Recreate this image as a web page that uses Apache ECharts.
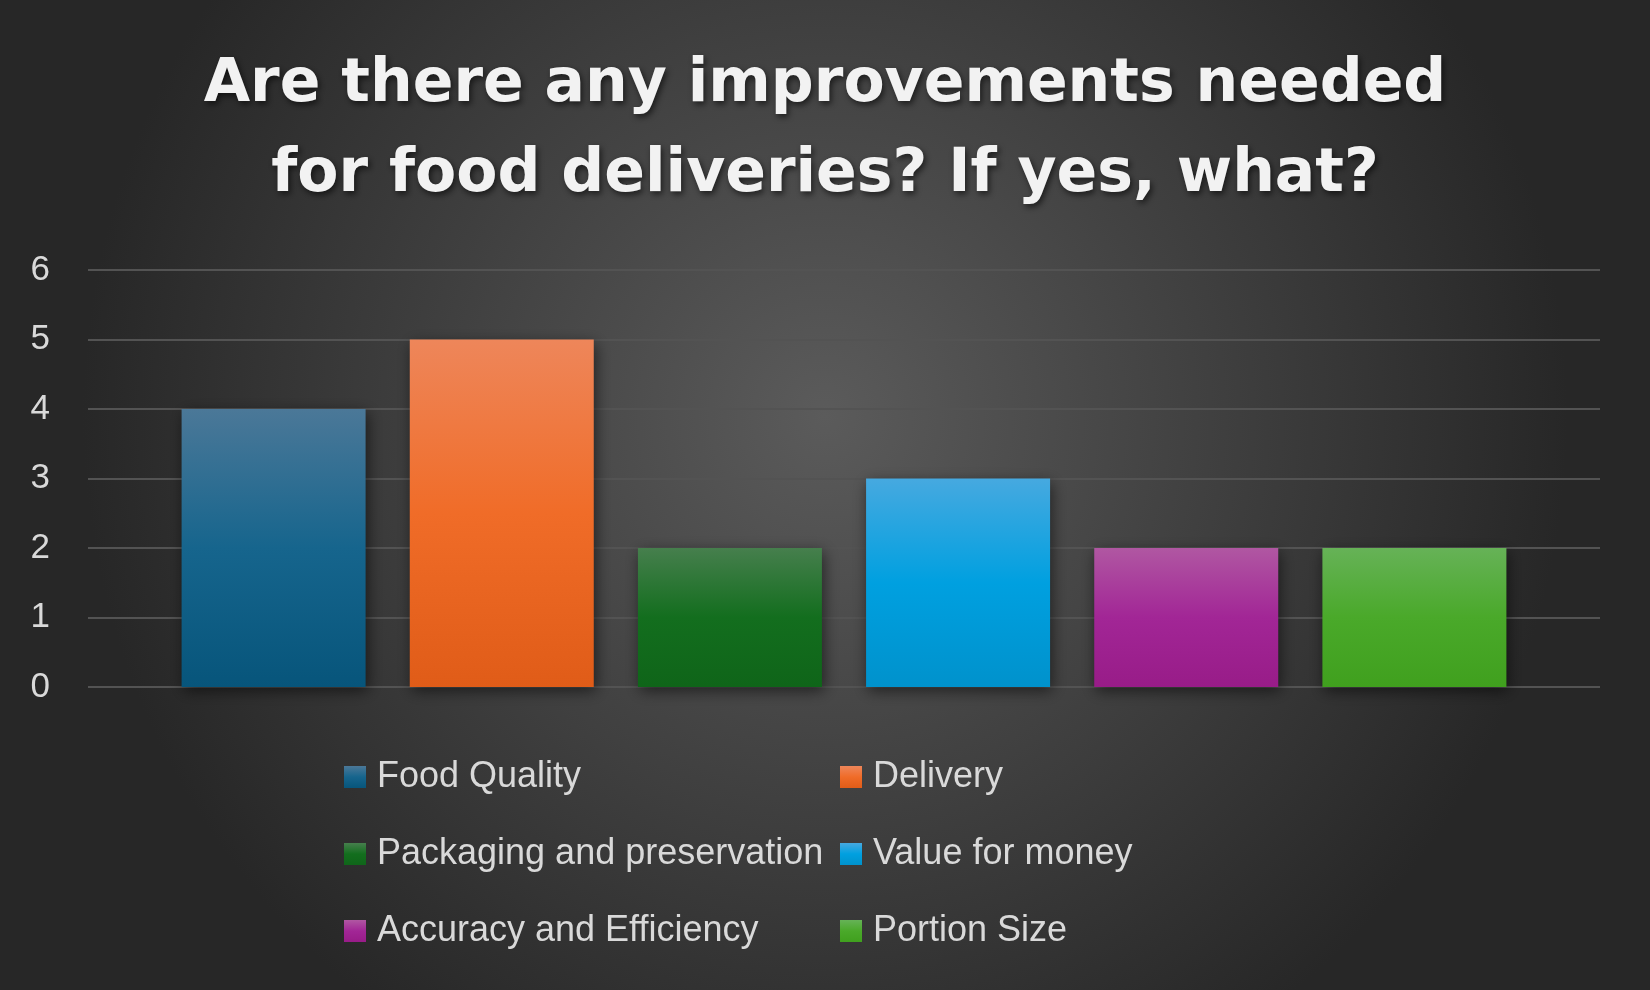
<!DOCTYPE html>
<html>
<head>
<meta charset="utf-8">
<script src="https://cdn.jsdelivr.net/npm/echarts@6/dist/echarts.min.js"></script>
<style>html,body{margin:0;padding:0;background:#333;}#c{width:1650px;height:990px;}</style>
</head>
<body>
<div id="c"></div>
<script>
const titleText = 'Are there any improvements needed\nfor food deliveries? If yes, what?';
const categories = [''];
const seriesNames = ['Food Quality', 'Delivery', 'Packaging and preservation', 'Value for money', 'Accuracy and Efficiency', 'Portion Size'];
const seriesValues = [4, 5, 2, 3, 2, 2];
const yTicks = [0, 1, 2, 3, 4, 5, 6];
const gradients = [
  ['#4b7898', '#16658d', '#07557b'],
  ['#ee865a', '#f06c28', '#e05c18'],
  ['#467f4d', '#136e1e', '#0f6519'],
  ['#46a9e0', '#00a0e0', '#0092cc'],
  ['#b057a2', '#a22696', '#981c88'],
  ['#66b257', '#4aa92a', '#40a01e']
];

function grad(c) {
  return new echarts.graphic.LinearGradient(0, 0, 0, 1, [
    {offset: 0, color: c[0]}, {offset: 0.5, color: c[1]}, {offset: 1, color: c[2]}
  ]);
}

const chart = echarts.init(document.getElementById('c'), null, {renderer: 'canvas'});
const legendText = {color: '#d9d9d9', fontSize: 36, fontFamily: 'Liberation Sans', lineHeight: 40, padding: [0, 0, 0, 6]};
chart.setOption({
  backgroundColor: {
    type: 'radial', x: 0.5, y: 0.42, r: 0.75,
    colorStops: [{offset: 0, color: '#5b5b5b'}, {offset: 1, color: '#272727'}]
  },
  animation: false,
  title: {
    text: titleText,
    left: 'center',
    top: 40,
    padding: 0,
    textStyle: {
      color: '#f2f2f2', fontSize: 60, fontWeight: 'bold', fontFamily: 'DejaVu Sans',
      lineHeight: 90, textShadowColor: 'rgba(0,0,0,0.6)', textShadowBlur: 6, textShadowOffsetX: 2, textShadowOffsetY: 3
    }
  },
  legend: [
    {
      orient: 'vertical', left: 339, top: 752, itemWidth: 22, itemHeight: 22, itemGap: 37,
      icon: 'rect', data: [seriesNames[0], seriesNames[2], seriesNames[4]], textStyle: legendText, selectedMode: false
    },
    {
      orient: 'vertical', left: 835, top: 752, itemWidth: 22, itemHeight: 22, itemGap: 37,
      icon: 'rect', data: [seriesNames[1], seriesNames[3], seriesNames[5]], textStyle: legendText, selectedMode: false
    }
  ],
  grid: {left: 88, right: 50, top: 270, bottom: 303, containLabel: false},
  xAxis: {
    type: 'category', data: categories,
    axisLine: {show: false}, axisTick: {show: false}, axisLabel: {show: false}
  },
  yAxis: {
    type: 'value', min: yTicks[0], max: yTicks[yTicks.length - 1], interval: 1,
    axisLine: {show: false}, axisTick: {show: false},
    axisLabel: {color: '#d9d9d9', fontSize: 35, fontFamily: 'Liberation Sans', margin: 38},
    splitLine: {lineStyle: {color: '#535353', width: 2}}
  },
  series: seriesNames.map((name, i) => ({
    name: name,
    type: 'bar',
    data: [seriesValues[i]],
    barWidth: 184,
    barGap: '24%',
    itemStyle: {
      color: grad(gradients[i]),
      shadowColor: 'rgba(0,0,0,0.55)', shadowBlur: 14, shadowOffsetX: 2, shadowOffsetY: 4
    }
  }))
});
</script>
</body>
</html>
